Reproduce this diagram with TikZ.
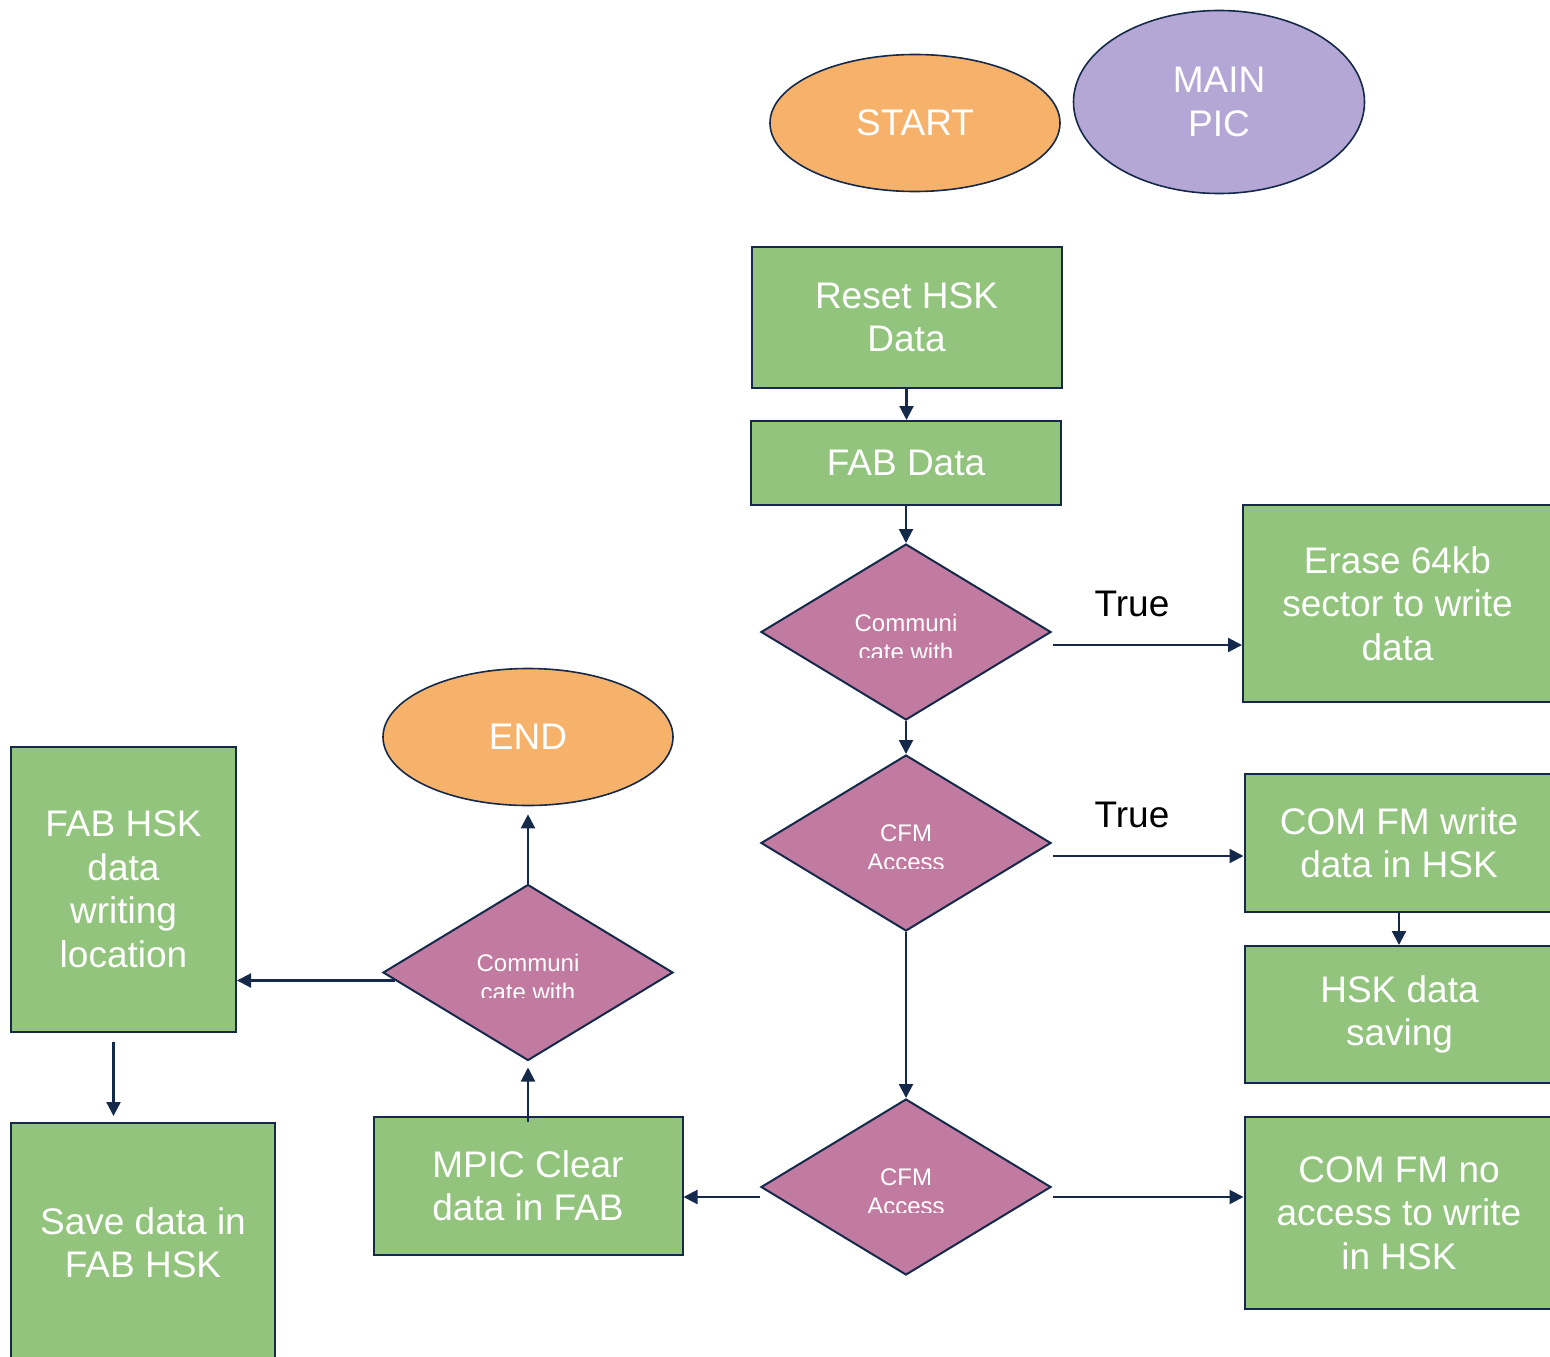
\documentclass[tikz,border=0pt]{standalone}
\usepackage{fontspec}
\setmainfont{Liberation Sans}
\usetikzlibrary{shapes.geometric,arrows.meta}

\definecolor{edge}{HTML}{15294A}
\definecolor{boxgreen}{HTML}{93C47D}
\definecolor{termorange}{HTML}{F6B26B}
\definecolor{picpurple}{HTML}{B4A7D6}
\definecolor{decmagenta}{HTML}{C27BA0}

\tikzset{
  bigtext/.style={text=white, align=center, font=\fontsize{37}{43.5}\selectfont},
  process/.style={rectangle, draw=edge, fill=boxgreen, line width=2pt,
    inner sep=0pt, bigtext},
  terminal/.style={ellipse, draw=edge, fill=termorange, line width=1.6pt,
    inner sep=0pt, minimum width=290pt, minimum height=137pt, bigtext},
  decision/.style={diamond, draw=edge, fill=decmagenta, line width=2pt,
    inner sep=0pt, minimum width=290pt, minimum height=176pt},
  dectext/.style={text=white, align=center, inner sep=0pt,
    font=\fontsize{24}{29}\selectfont},
  flow/.style={draw=edge, line width=2.2pt,
    -{Triangle[length=14pt,width=14pt]}},
  branch/.style={text=black, font=\fontsize{37}{43}\selectfont, inner sep=0pt}
}

% label of a decision box; the text overflows and is cut off below its second line
\newcommand{\decisionlabel}[2]{%
  \begin{scope}
    \clip ([shift={(-140pt,90pt)}]#1.center) rectangle ([shift={(140pt,-25pt)}]#1.center);
    \node[dectext] (#1text) at ([yshift=-5pt]#1.center) {#2};
  \end{scope}}

\begin{document}
\begin{tikzpicture}[x=1pt, y=-1pt]
  \useasboundingbox (0,0) rectangle (1550,1357);
  \clip (0,0) rectangle (1550,1357);

  % terminals
  \node[terminal] (start) at (915,123) {START};
  \node[terminal, fill=picpurple, minimum width=291pt, minimum height=183pt]
    (mainpic) at (1219,102) {MAIN\\PIC};
  \node[terminal] (end) at (528,737) {END};

  % central column
  \node[process, minimum width=310pt, minimum height=141pt]
    (reset) at (906.5,317.5) {Reset HSK\\Data};
  \node[process, minimum width=310pt, minimum height=84pt]
    (fab) at (906,463) {FAB Data};
  \node[decision] (d1) at (906,632) {};
  \decisionlabel{d1}{Communi\\cate with}
  \node[decision] (d2) at (906,843) {};
  \decisionlabel{d2}{CFM\\Access}
  \node[decision] (d3) at (906,1187) {};
  \decisionlabel{d3}{CFM\\Access}

  % right column
  \node[process, minimum width=309pt, minimum height=197pt]
    (erase) at (1397.5,603.5) {Erase 64kb\\sector to write\\data};
  \node[process, minimum width=309pt, minimum height=138pt]
    (comw) at (1399,843) {COM FM write\\data in HSK};
  \node[process, minimum width=309pt, minimum height=137pt]
    (hsk) at (1399.5,1014.5) {HSK data\\saving};
  \node[process, minimum width=309pt, minimum height=192pt]
    (comno) at (1399,1213) {COM FM no\\access to write\\in HSK};

  % left part
  \node[process, minimum width=309pt, minimum height=138pt]
    (mpic) at (528,1186) {MPIC Clear\\data in FAB};
  \node[decision] (d4) at (528,972.5) {};
  \decisionlabel{d4}{Communi\\cate with}
  \node[process, minimum width=225pt, minimum height=285pt]
    (fabhsk) at (123.5,889.5) {FAB HSK\\data\\writing\\location};
  \node[process, minimum width=264pt, minimum height=240pt]
    (save) at (143,1243) {Save data in\\FAB HSK};

  % branch labels
  \node[branch] (t1) at (1132,604) {True};
  \node[branch] (t2) at (1132,815) {True};

  % connectors
  \draw[flow] (reset.south) -- (reset.south |- fab.north);
  \draw[flow] (fab.south) -- (d1.north);
  \draw[flow] (d1.south) -- (d2.north);
  \coordinate (d1out) at ([shift={(1pt,-13pt)}]d1.east);
  \draw[flow] (d1out) -- (d1out -| erase.west);
  \coordinate (d2out) at ([shift={(1pt,-13pt)}]d2.east);
  \draw[flow] (d2out) -- (d2out -| comw.west);
  \draw[flow] (comw.south) -- (comw.south |- hsk.north);
  \draw[flow] (d2.south) -- (d3.north);
  \coordinate (d3right) at ([shift={(1pt,-10pt)}]d3.east);
  \draw[flow] (d3right) -- (d3right -| comno.west);
  \coordinate (d3left) at ([yshift=-10pt]d3.west);
  \draw[flow] (d3left) -- (d3left -| mpic.east);
  \draw[flow] ([yshift=-6pt]mpic.north) -- ([yshift=-6pt]d4.south);
  \draw[flow] (d4.north) -- ([yshift=-8pt]end.south);
  \coordinate (d4left) at ([shift={(13pt,-8pt)}]d4.west);
  \draw[flow] (d4left) -- (d4left -| fabhsk.east);
  \coordinate (savetop) at ([yshift=6pt]save.north);
  \coordinate (fabfoot) at ([shift={(-10pt,-9pt)}]fabhsk.south);
  \draw[flow] (fabfoot) -- (fabfoot |- savetop);
\end{tikzpicture}
\end{document}
